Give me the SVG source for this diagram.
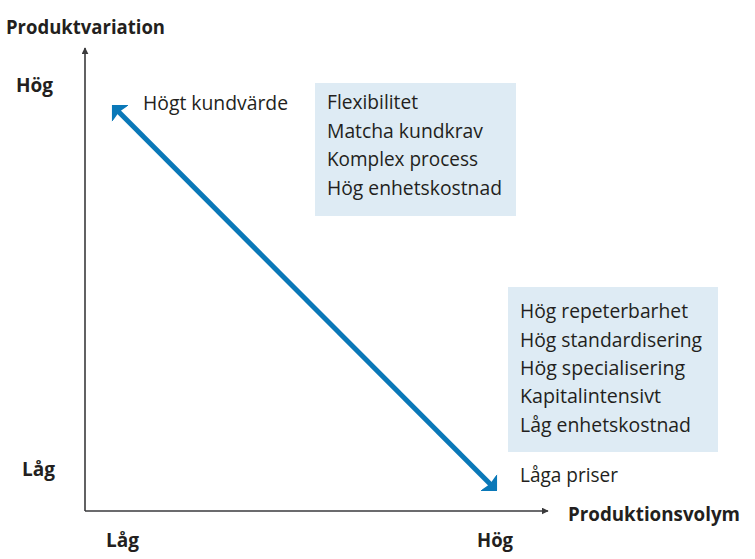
<svg xmlns="http://www.w3.org/2000/svg" width="755" height="559" viewBox="0 0 755 559">
<defs>
<style>
text{font-family:"Open Sans","Noto Sans",sans-serif;fill:#231f20;font-size:20.5px}
.b{font-weight:bold;font-size:20px}
.box{fill:#deebf4}
.axis{stroke:#3a3a3c;stroke-width:1.6;fill:none}
.diag{stroke:#0a78b8;stroke-width:5;fill:none}
</style>
<marker id="ah" viewBox="0 0 10 10" refX="9" refY="5" markerWidth="7" markerHeight="7" orient="auto" markerUnits="userSpaceOnUse"><path d="M0,0 L10,5 L0,10 Z" fill="#3a3a3c"/></marker>
<marker id="bh" viewBox="0 0 12 24" refX="4" refY="12" markerWidth="12" markerHeight="24" orient="auto-start-reverse" markerUnits="userSpaceOnUse"><path d="M0,0 L12,12 L0,24 L2,12 Z" fill="#0a78b8"/></marker>
</defs>
<rect width="755" height="559" fill="#fff"/>
<g id="connectors">
<line class="axis" x1="85" y1="511" x2="85" y2="48" marker-end="url(#ah)"/>
<line class="axis" x1="85" y1="511" x2="548" y2="511" marker-end="url(#ah)"/>
<line class="diag" x1="117.6" y1="110.7" x2="491.4" y2="485.3" marker-start="url(#bh)" marker-end="url(#bh)"/>
</g>
<g id="axis-labels">
<text class="b" x="6" y="34" textLength="159" lengthAdjust="spacingAndGlyphs">Produktvariation</text>
<text class="b" x="16" y="92" textLength="37" lengthAdjust="spacingAndGlyphs">Hög</text>
<text class="b" x="22" y="476" textLength="33" lengthAdjust="spacingAndGlyphs">Låg</text>
<text class="b" x="106" y="547" textLength="33" lengthAdjust="spacingAndGlyphs">Låg</text>
<text class="b" x="477" y="547" textLength="36" lengthAdjust="spacingAndGlyphs">Hög</text>
<text class="b" x="568" y="521" textLength="172" lengthAdjust="spacingAndGlyphs">Produktionsvolym</text>
</g>
<g id="hogt-kundvarde">
<text x="143" y="110" textLength="145" lengthAdjust="spacingAndGlyphs">Högt kundvärde</text>
</g>
<g id="box-high">
<rect class="box" x="315" y="83" width="201" height="133"/>
<text x="327" y="109" textLength="91" lengthAdjust="spacingAndGlyphs">Flexibilitet</text>
<text x="327" y="138" textLength="156" lengthAdjust="spacingAndGlyphs">Matcha kundkrav</text>
<text x="327" y="166" textLength="151" lengthAdjust="spacingAndGlyphs">Komplex process</text>
<text x="327" y="195" textLength="175" lengthAdjust="spacingAndGlyphs">Hög enhetskostnad</text>
</g>
<g id="box-low">
<rect class="box" x="508" y="287" width="210" height="165"/>
<text x="520" y="318" textLength="168" lengthAdjust="spacingAndGlyphs">Hög repeterbarhet</text>
<text x="520" y="347" textLength="182" lengthAdjust="spacingAndGlyphs">Hög standardisering</text>
<text x="520" y="375" textLength="165" lengthAdjust="spacingAndGlyphs">Hög specialisering</text>
<text x="520" y="403" textLength="141" lengthAdjust="spacingAndGlyphs">Kapitalintensivt</text>
<text x="520" y="432" textLength="171" lengthAdjust="spacingAndGlyphs">Låg enhetskostnad</text>
</g>
<g id="laga-priser">
<text x="520" y="482" textLength="98" lengthAdjust="spacingAndGlyphs">Låga priser</text>
</g>
</svg>
